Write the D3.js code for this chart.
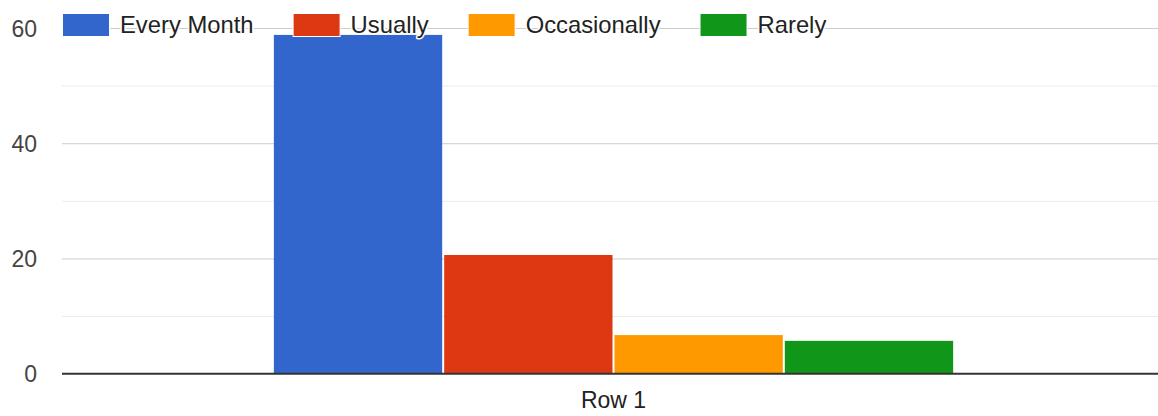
<!DOCTYPE html>
<html>
<head>
<meta charset="utf-8">
<script src="https://cdn.jsdelivr.net/npm/d3@7"></script>
<style>
html,body{margin:0;padding:0;background:#fff;}
svg{display:block;font-family:"Liberation Sans",Arial,sans-serif;}
</style>
</head>
<body>
<svg id="chart" width="1158" height="416"></svg>
<script>
const categories = ["Row 1"];
const seriesNames = ["Every Month", "Usually", "Occasionally", "Rarely"];
const seriesValues = [58.8, 20.6, 6.7, 5.7];
const seriesColors = ["#3366cc", "#dc3912", "#ff9900", "#109618"];
const majorTicks = [0, 20, 40, 60];
const minorTicks = [10, 30, 50];

const svg = d3.select("#chart");
const W = 1158, H = 416;
const plotLeft = 62, plotRight = 1165, plotTop = 28.0, plotBottom = 373.7;

const y = d3.scaleLinear().domain([0, 60]).range([plotBottom, plotTop]);
const x0 = d3.scaleBand().domain(categories).range([plotLeft, plotRight])
  .paddingInner(0).paddingOuter(0.3095);
const x1 = d3.scaleBand().domain(seriesNames).range([0, x0.bandwidth()]).padding(0);

// minor gridlines
svg.append("g")
  .attr("transform", `translate(${plotLeft},0)`)
  .call(d3.axisLeft(y).tickValues(minorTicks).tickSize(-(W - plotLeft)).tickFormat(""))
  .call(g => g.select(".domain").remove())
  .call(g => g.selectAll("line").attr("stroke", "#ebebeb").attr("stroke-width", 1));

// major gridlines
svg.append("g")
  .attr("transform", `translate(${plotLeft},0)`)
  .call(d3.axisLeft(y).tickValues(majorTicks.filter(d => d !== 0)).tickSize(-(W - plotLeft)).tickFormat(""))
  .call(g => g.select(".domain").remove())
  .call(g => g.selectAll("line").attr("stroke", "#cccccc").attr("stroke-width", 1));

// y labels
svg.append("g")
  .attr("transform", `translate(${plotLeft},0)`)
  .call(d3.axisLeft(y).tickValues(majorTicks).tickSize(0).tickPadding(25).tickFormat(d3.format("d")))
  .call(g => g.select(".domain").remove())
  .call(g => g.selectAll("text").attr("fill", "#444").attr("font-size", 23)
    .attr("font-family", "'Liberation Sans', Arial, sans-serif").attr("dy", "0.36em"));

// bars
const groups = svg.append("g").selectAll("g").data(categories).join("g")
  .attr("transform", d => `translate(${x0(d)},0)`);
groups.selectAll("rect")
  .data(() => seriesNames.map((n, i) => ({name: n, value: seriesValues[i], color: seriesColors[i]})))
  .join("rect")
  .attr("x", d => x1(d.name) + 1)
  .attr("width", x1.bandwidth() - 2)
  .attr("y", d => y(d.value))
  .attr("height", d => y(0) - y(d.value))
  .attr("fill", d => d.color);

// baseline
svg.append("line")
  .attr("x1", plotLeft).attr("x2", W)
  .attr("y1", y(0)).attr("y2", y(0))
  .attr("stroke", "#333").attr("stroke-width", 2);

// x label
svg.append("g")
  .attr("transform", `translate(0,${plotBottom})`)
  .call(d3.axisBottom(x0).tickSize(0).tickPadding(0))
  .call(g => g.select(".domain").remove())
  .call(g => g.selectAll("text").attr("fill", "#222").attr("font-size", 23)
    .attr("font-family", "'Liberation Sans', Arial, sans-serif")
    .attr("dy", null).attr("y", 34.5));

// legend
const legend = svg.append("g");
let lx = 63;
seriesNames.forEach((name, i) => {
  legend.append("rect")
    .attr("x", lx - 0.5).attr("y", 13.5).attr("width", 47).attr("height", 23)
    .attr("fill", seriesColors[i]).attr("stroke", "#fff").attr("stroke-width", 1);
  const t = legend.append("text")
    .attr("x", lx + 57).attr("y", 33.3)
    .attr("font-size", 23.8).attr("fill", "#222")
    .attr("stroke", "#fff").attr("stroke-width", 3).attr("paint-order", "stroke")
    .attr("stroke-linejoin", "round")
    .text(name);
  const w = t.node().getComputedTextLength();
  lx = lx + 57 + w + 40;
});
</script>
</body>
</html>
